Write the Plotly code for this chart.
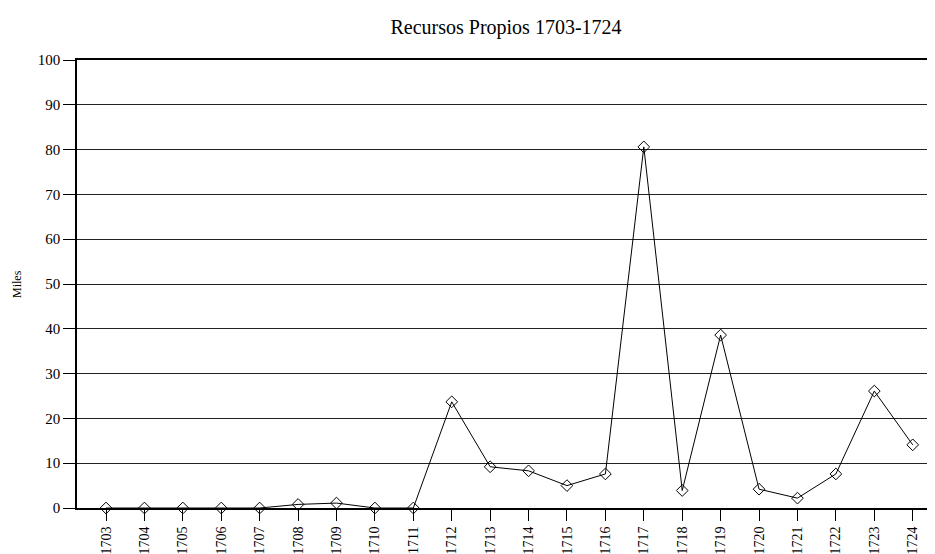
import plotly.graph_objects as go

years = [str(y) for y in range(1703, 1725)]
values = [0, 0, 0, 0, 0, 0.8, 1.1, 0, 0, 23.7, 9.2, 8.3, 5.0, 7.6, 80.6, 3.9, 38.6, 4.2, 2.2, 7.6, 26.1, 14.1]
y_ticks = [0, 10, 20, 30, 40, 50, 60, 70, 80, 90, 100]

FONT = "Liberation Serif"

# the page body has an 8px margin, so the figure is sized/offset to compensate
W, H = 927, 546

fig = go.Figure()
fig.add_trace(go.Scatter(
    x=years, y=values, mode="lines+markers",
    line=dict(color="black", width=1),
    marker=dict(symbol="diamond-open", size=9, color="black", line=dict(width=1, color="black")),
    cliponaxis=False, showlegend=False,
))

fig.update_layout(
    width=W, height=H,
    margin=dict(l=69, r=0, t=52, b=46),
    paper_bgcolor="white", plot_bgcolor="white",
    font=dict(family=FONT, size=14, color="black"),
    title=dict(text="Recursos Propios 1703-1724", x=0.5, xref="paper", xanchor="center",
               y=1 - 19 / H, yanchor="middle", font=dict(size=20, family=FONT, color="black")),
    xaxis=dict(type="category", range=[-0.755, 21.58], showgrid=False, automargin=False,
               showline=True, linecolor="black", linewidth=2, mirror=True,
               ticks="outside", ticklen=11, tickcolor="black", tickwidth=1,
               tickangle=-90, tickfont=dict(size=14, family=FONT, color="black")),
    yaxis=dict(range=[0, 100], tickvals=y_ticks, showgrid=True, gridcolor="#222", gridwidth=1,
               automargin=False,
               showline=True, linecolor="black", linewidth=1.5, zeroline=False,
               ticks="outside", ticklen=12, tickcolor="black", tickwidth=1,
               tickfont=dict(size=15, family=FONT, color="black")),
    annotations=[dict(text="Miles", textangle=-90, xref="paper", yref="paper",
                      x=-(77 - 17) / 858, y=0.5, xanchor="center", yanchor="middle",
                      showarrow=False, font=dict(size=12, family=FONT, color="black"))],
)

fig.write_html("out.html")
